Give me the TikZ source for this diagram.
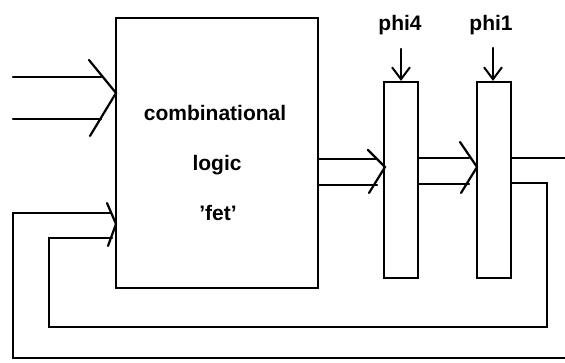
\documentclass[tikz,border=0pt]{standalone}
\usepackage{fontspec}
\setmainfont{Liberation Sans}
\usetikzlibrary{arrows.meta}
\tikzset{
  wire/.style={line width=2.2pt, line cap=round, line join=miter},
  blockbox/.style={draw, line width=2.2pt, inner sep=0pt},
  lbl/.style={font=\bfseries\fontsize{21}{21}\selectfont, inner sep=0pt, anchor=base},
  clk/.style={wire, -{Straight Barb[length=12pt,width=18pt,line width=2pt]}}
}
\begin{document}
\begin{tikzpicture}[x=1pt,y=-1pt]
\useasboundingbox (0,0) rectangle (565,362);
% blocks
\node[blockbox, minimum width=202pt, minimum height=270pt] (cl) at (217,153) {};
\node[blockbox, minimum width=34pt, minimum height=196pt] (l4) at (401,180) {};
\node[blockbox, minimum width=34pt, minimum height=196pt] (l1) at (494,180) {};
% text
\node[lbl] (t1) at (215,120) {combinational};
\node[lbl] (t2) at (217,170) {logic};
\node[lbl] (t3) at (218,220) {'fet'};
\node[lbl] (p4) at (400,30) {phi4};
\node[lbl] (p1) at (491,30) {phi1};
% clock arrows
\coordinate (c4) at (401,49);
\coordinate (c1) at (493,48);
\draw[clk] (c4) -- (c4 |- l4.north);
\draw[clk] (c1) -- (c1 |- l1.north);
% input bus
\coordinate (i1) at (13,77);
\coordinate (i2) at (13,119);
\coordinate (ch1) at (116,93);
\draw[wire] (i1) -- (101,77);
\draw[wire] (i2) -- (101,119);
\draw[wire] (89,60) -- (ch1) -- (90,136);
% feedback into logic
\coordinate (ch2) at (116,224);
\draw[wire] (107,203) -- (ch2) -- (108,246);
% outputs of logic to phi4 latch
\coordinate (ch3) at (385,167);
\draw[wire] (cl.east |- 0,159) -- (377,159);
\draw[wire] (cl.east |- 0,185) -- (377,185);
\draw[wire] (368,150) -- (ch3) -- (369,193);
% phi4 to phi1
\coordinate (ch4) at (477,167);
\draw[wire] (l4.east |- 0,158) -- (469,158);
\draw[wire] (l4.east |- 0,184) -- (469,184);
\draw[wire] (460,142) -- (ch4) -- (461,193);
% outer feedback
\coordinate (oe) at (565,158);
\coordinate (ob) at (565,358);
\draw[wire] (l1.east |- oe) -- (oe);
\draw[wire] (ob) -- (13,358) -- (13,213) -- (111,213);
% inner feedback
\draw[wire] (l1.east |- 0,183) -- (547,183) -- (547,327) -- (49,327) -- (49,238) -- (112,238);
\end{tikzpicture}
\end{document}
